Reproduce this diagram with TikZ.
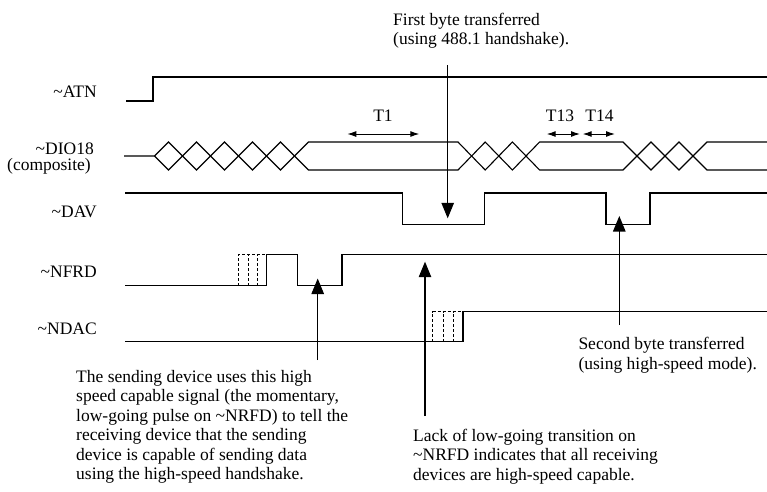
\documentclass[tikz,border=0pt]{standalone}
\usepackage{fontspec}
\setmainfont{Liberation Serif}
\usetikzlibrary{arrows.meta}
\begin{document}
\begin{tikzpicture}[x=1pt,y=-1pt,
  sig/.style={line width=1.1pt, line join=miter},
  dsh/.style={line width=0.9pt, dash pattern=on 3pt off 2pt},
  bigarrow/.style={line width=1.1pt, -{Triangle[width=12.5pt,length=15.5pt]}},
  tarrow/.style={line width=1pt, {Latex[width=6pt,length=9pt]}-{Latex[width=6pt,length=9pt]}},
  lbl/.style={font=\fontsize{17.5}{19.5}\selectfont, inner sep=0pt},
  note/.style={lbl, align=left, anchor=north west}]
\useasboundingbox (0,0) rectangle (767,491);

% signal names
\node[lbl, anchor=base east] (atn)  at (97,97.5)  {\textasciitilde ATN};
\node[lbl, anchor=base east] (dio)  at (94,154)   {\textasciitilde DIO18};
\node[lbl, anchor=base east] (comp) at (91,170.5) {(composite)};
\node[lbl, anchor=base east] (dav)  at (97,217.5) {\textasciitilde DAV};
\node[lbl, anchor=base east] (nfrd) at (97,277.5) {\textasciitilde NFRD};
\node[lbl, anchor=base east] (ndac) at (97,334)   {\textasciitilde NDAC};

% ~ATN
\draw[sig] (126,101) -- (153,101) -- (153,77) -- (767,77);

% ~DIO18 (composite)
\draw[sig] (124,156) -- (154.5,156) -- (168.5,142) -- (196.5,170) -- (224.5,142)
  -- (252.5,170) -- (280.5,142) -- (308.5,170) -- (458,170) -- (485.2,142)
  -- (512.4,170) -- (539.6,142) -- (623,142) -- (651,170) -- (679,142)
  -- (707,170) -- (767,170);
\draw[sig] (154.5,156) -- (168.5,170) -- (196.5,142) -- (224.5,170)
  -- (252.5,142) -- (280.5,170) -- (308.5,142) -- (458,142) -- (485.2,170)
  -- (512.4,142) -- (539.6,170) -- (623,170) -- (651,142) -- (679,170)
  -- (707,142) -- (767,142);

% ~DAV
\draw[sig] (125,193) -- (402.7,193) -- (402.7,224.3) -- (484.3,224.3) -- (484.3,193)
  -- (606,193) -- (606,224.3) -- (650,224.3) -- (650,193) -- (767,193);

% ~NFRD
\draw[sig] (125,285.7) -- (266.7,285.7) -- (266.7,254.7) -- (297.7,254.7)
  -- (297.7,285.7) -- (342,285.7) -- (342,254.7) -- (767,254.7);
\draw[dsh] (238.3,285.7) -- (238.3,254.7) -- (266.7,254.7);
\draw[dsh] (248,285.7) -- (248,254.7);
\draw[dsh] (257.5,285.7) -- (257.5,254.7);

% ~NDAC
\draw[sig] (125,341.7) -- (463,341.7) -- (463,311.5) -- (767,311.5);
\draw[dsh] (432.7,341.7) -- (432.7,311.5) -- (463,311.5);
\draw[dsh] (443.3,341.7) -- (443.3,311.5);
\draw[dsh] (453.3,341.7) -- (453.3,311.5);

% timing labels
\node[lbl, anchor=base] (t1)  at (383,121)   {T1};
\node[lbl, anchor=base] (t13) at (560,121)   {T13};
\node[lbl, anchor=base] (t14) at (599.5,121) {T14};
\coordinate (t1a)  at (347.3,134);
\coordinate (t1b)  at (419.3,134);
\coordinate (t13a) at (546.7,134);
\coordinate (t13b) at (580,134);
\coordinate (t14a) at (582.7,134);
\coordinate (t14b) at (615,134);
\draw[tarrow] (t1a) -- (t1b);
\draw[tarrow] (t13a) -- (t13b);
\draw[tarrow] (t14a) -- (t14b);

% annotations
\node[note] (first) at (393,12.5) {First byte transferred\\(using 488.1 handshake).};
\node[note] (second) at (578.3,337) {Second byte transferred\\(using high-speed mode).};
\node[note] (sending) at (76,370) {The sending device uses this high\\speed capable signal (the momentary,\\low-going pulse on \textasciitilde NRFD) to tell the\\receiving device that the sending\\device is capable of sending data\\using the high-speed handshake.};
\node[note] (lack) at (413,428.5) {Lack of low-going transition on\\\textasciitilde NRFD indicates that all receiving\\devices are high-speed capable.};

\coordinate (fbtail) at (447.7,65);
\coordinate (fbtip)  at (447.7,218.3);
\coordinate (sbtail) at (619.3,325);
\coordinate (sbtip)  at (619.3,216);
\coordinate (sdtail) at (317.7,360);
\coordinate (sdtip)  at (317.7,278.5);
\coordinate (lktail) at (425,416);
\coordinate (lktip)  at (425,261.7);
\draw[bigarrow] (fbtail) -- (fbtip);
\draw[bigarrow] (sbtail) -- (sbtip);
\draw[bigarrow] (sdtail) -- (sdtip);
\draw[bigarrow] (lktail) -- (lktip);
\end{tikzpicture}
\end{document}
